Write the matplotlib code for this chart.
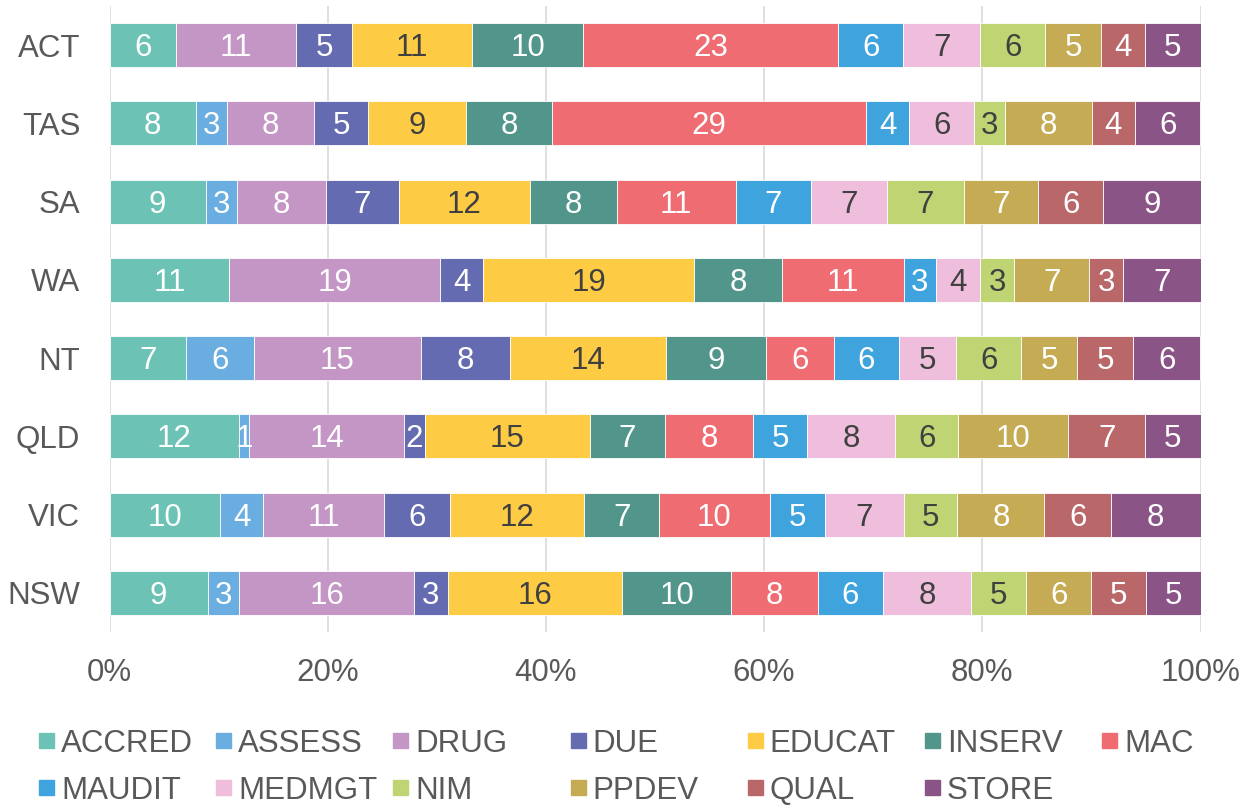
import numpy as np
import matplotlib.pyplot as plt
from matplotlib.patches import Rectangle

plt.rcParams['font.family'] = ['Liberation Sans', 'DejaVu Sans']

# states, bottom to top
states = ['NSW', 'VIC', 'QLD', 'NT', 'WA', 'SA', 'TAS', 'ACT']

series = ['ACCRED', 'ASSESS', 'DRUG', 'DUE', 'EDUCAT', 'INSERV', 'MAC',
          'MAUDIT', 'MEDMGT', 'NIM', 'PPDEV', 'QUAL', 'STORE']

colors = ['#6CC3B5', '#6AADE0', '#C496C5', '#656BB1', '#FECB45', '#52968B',
          '#EE6C72', '#3FA4DE', '#EFBEDC', '#BFD574', '#C6AB55', '#BA676A',
          '#8A5586']

# percentage share per state (order follows states)
ACCRED = [9.0, 10.1, 11.9, 7.0, 11.0, 8.8, 7.9, 6.1]
ASSESS = [2.9, 4.0, 0.9, 6.2, 0.0, 2.9, 2.9, 0.0]
DRUG   = [16.0, 11.1, 14.2, 15.3, 19.3, 8.1, 8.0, 11.0]
DUE    = [3.1, 6.0, 1.9, 8.2, 4.0, 6.7, 4.9, 5.1]
EDUCAT = [16.0, 12.3, 15.1, 14.3, 19.3, 12.0, 9.0, 11.0]
INSERV = [10.0, 6.9, 6.9, 9.1, 8.1, 8.0, 7.9, 10.2]
MAC    = [7.9, 10.1, 8.1, 6.2, 11.2, 10.9, 28.8, 23.3]
MAUDIT = [6.0, 5.1, 4.9, 6.0, 2.9, 6.9, 4.0, 6.0]
MEDMGT = [8.1, 7.2, 8.1, 5.2, 4.1, 7.0, 5.9, 7.0]
NIM    = [5.0, 4.9, 5.8, 6.0, 3.1, 7.0, 2.9, 6.0]
PPDEV  = [6.0, 8.0, 10.1, 5.1, 6.9, 6.8, 7.9, 5.1]
QUAL   = [5.0, 6.1, 7.0, 5.1, 3.1, 6.0, 4.0, 4.0]
STORE  = [5.0, 8.2, 5.1, 6.2, 7.1, 8.9, 6.0, 5.1]

values = [ACCRED, ASSESS, DRUG, DUE, EDUCAT, INSERV, MAC,
          MAUDIT, MEDMGT, NIM, PPDEV, QUAL, STORE]
dark_label = {'EDUCAT', 'MEDMGT', 'NIM'}

W, H = 1255, 805
fig = plt.figure(figsize=(W / 100, H / 100), dpi=100)
ax = fig.add_axes([109.5 / W, 1 - 632 / H, 1091 / W, 626 / H])

data = np.array(values, dtype=float)
share = data / data.sum(axis=0) * 100
y = np.arange(len(states))
left = np.zeros(len(states))
for name, col, raw, vals in zip(series, colors, data, share):
    ax.barh(y, vals, left=left, height=0.56, color=col,
            edgecolor='white', linewidth=0.6, zorder=3)
    tc = '#404040' if name in dark_label else 'white'
    for yi, (r, v, l) in enumerate(zip(raw, vals, left)):
        if r > 0:
            # baseline placed so the digits sit centred in the bar
            ax.annotate(f'{r:.0f}', (l + v / 2, yi), xytext=(0, -8),
                        textcoords='offset points', ha='center',
                        va='baseline', fontsize=22.5, color=tc, zorder=4)
    left += vals

ax.set_xlim(0, 100)
ax.set_ylim(-0.5, len(states) - 0.5)
ax.set_xticks(np.arange(0, 101, 20))
ax.set_xticklabels([f'{t}%' for t in range(0, 101, 20)])
ax.set_yticks(y)
ax.set_yticklabels(states)
ax.tick_params(axis='both', length=0, labelsize=22.5, colors='#595959')
ax.tick_params(axis='x', pad=19)
ax.tick_params(axis='y', pad=21)
ax.grid(axis='x', color='#D9D9D9', linewidth=1.2, zorder=0)
for s in ax.spines.values():
    s.set_visible(False)

# legend laid out like the original: 7 equal columns, 2 rows
for i, (name, col) in enumerate(zip(series, colors)):
    r, c = divmod(i, 7)
    x0 = 39 + c * 177.2
    yc = 740 + r * 47
    fig.add_artist(Rectangle((x0 / W, 1 - (yc + 7.5) / H), 15 / W, 15 / H,
                             transform=fig.transFigure, color=col))
    fig.text((x0 + 22) / W, 1 - yc / H, name, ha='left', va='center_baseline',
             fontsize=22.5, color='#595959')

fig.savefig('out.png', dpi=100)
